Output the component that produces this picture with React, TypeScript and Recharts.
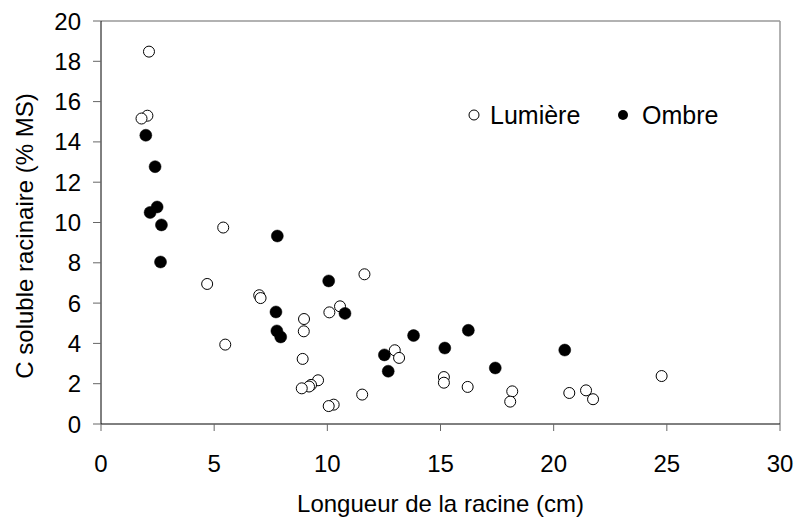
import {
  ScatterChart,
  Scatter,
  XAxis,
  YAxis,
  ReferenceLine,
} from "recharts";

const lumiereX = [2.12, 2.05, 1.79, 5.4, 4.69, 6.99, 7.05, 10.09, 10.56, 8.97, 8.96, 5.49, 8.91, 9.59, 9.28, 9.19, 8.87, 10.28, 10.06, 11.64, 12.98, 13.17, 15.15, 15.15, 16.2, 11.54, 18.17, 18.08, 20.69, 21.43, 21.74, 24.77];
const lumiereY = [18.48, 15.3, 15.16, 9.75, 6.95, 6.39, 6.25, 5.54, 5.84, 5.21, 4.6, 3.94, 3.23, 2.17, 1.94, 1.86, 1.77, 0.96, 0.89, 7.43, 3.66, 3.28, 2.33, 2.05, 1.84, 1.46, 1.62, 1.11, 1.54, 1.67, 1.23, 2.38];

const ombreX = [1.98, 2.39, 2.48, 2.17, 2.67, 7.79, 2.63, 10.06, 7.73, 7.77, 7.94, 10.78, 13.81, 16.23, 15.19, 20.49, 12.52, 12.69, 17.42];
const ombreY = [14.33, 12.77, 10.77, 10.5, 9.88, 9.33, 8.04, 7.1, 5.56, 4.62, 4.32, 5.49, 4.39, 4.65, 3.77, 3.67, 3.43, 2.62, 2.78];

const xTicks = [0, 5, 10, 15, 20, 25, 30];
const yTicks = [0, 2, 4, 6, 8, 10, 12, 14, 16, 18, 20];

const lumiere = lumiereX.map((x, i) => ({ x, y: lumiereY[i] }));
const ombre = ombreX.map((x, i) => ({ x, y: ombreY[i] }));

const font = "'Liberation Sans', Arial, sans-serif";
const fs = 24;

const OpenDot = (p: any) => (
  <circle cx={p.cx} cy={p.cy} r={5.5} fill="#fff" stroke="#000" strokeWidth={1} />
);
const FilledDot = (p: any) => (
  <circle cx={p.cx} cy={p.cy} r={6} fill="#000" stroke="#000" strokeWidth={0.5} />
);

const YTitle = () => (
  <text
    x={33}
    y={236}
    transform="rotate(-90 33 236)"
    textAnchor="middle"
    fill="#000"
    fontSize={fs}
    fontFamily={font}
  >
    C soluble racinaire (% MS)
  </text>
);

export default function App() {
  return (
    <div style={{ position: "absolute", left: 0, top: 0, width: 797, height: 520, background: "#fff" }}>
      <ScatterChart
        width={797}
        height={520}
        margin={{ top: 21, right: 17, bottom: 0, left: 0 }}
        style={{ fontFamily: font }}
      >
        <XAxis
          type="number"
          dataKey="x"
          domain={[0, 30]}
          ticks={xTicks}
          interval={0}
          height={96}
          stroke="#000"
          tickSize={7}
          tickMargin={24}
          tickLine={{ stroke: "#666" }}
          tick={{ fill: "#000", fontSize: fs, fontFamily: font }}
          label={{ value: "Longueur de la racine (cm)", position: "insideBottom", offset: 8, fill: "#000", fontSize: fs, fontFamily: font }}
        />
        <YAxis
          type="number"
          dataKey="y"
          domain={[0, 20]}
          ticks={yTicks}
          interval={0}
          width={101}
          stroke="#000"
          tickSize={8}
          tickMargin={12}
          tickLine={{ stroke: "#666" }}
          tick={{ fill: "#000", fontSize: fs, fontFamily: font }}
          label={{ content: YTitle }}
        />
        <ReferenceLine y={20} stroke="#999" strokeWidth={1.5} />
        <ReferenceLine x={30} stroke="#999" strokeWidth={1.5} />
        <Scatter name="Lumière" data={lumiere} shape={OpenDot} isAnimationActive={false} />
        <Scatter name="Ombre" data={ombre} shape={FilledDot} isAnimationActive={false} />
      </ScatterChart>
      <svg
        width={300}
        height={40}
        style={{ position: "absolute", left: 460, top: 96 }}
        fontFamily={font}
      >
        <circle cx={14} cy={19} r={5} fill="#fff" stroke="#000" strokeWidth={1} />
        <text x={30} y={28} fontSize={25} fill="#000">Lumière</text>
        <circle cx={163} cy={19} r={5} fill="#000" />
        <text x={182} y={28} fontSize={25} fill="#000">Ombre</text>
      </svg>
    </div>
  );
}
